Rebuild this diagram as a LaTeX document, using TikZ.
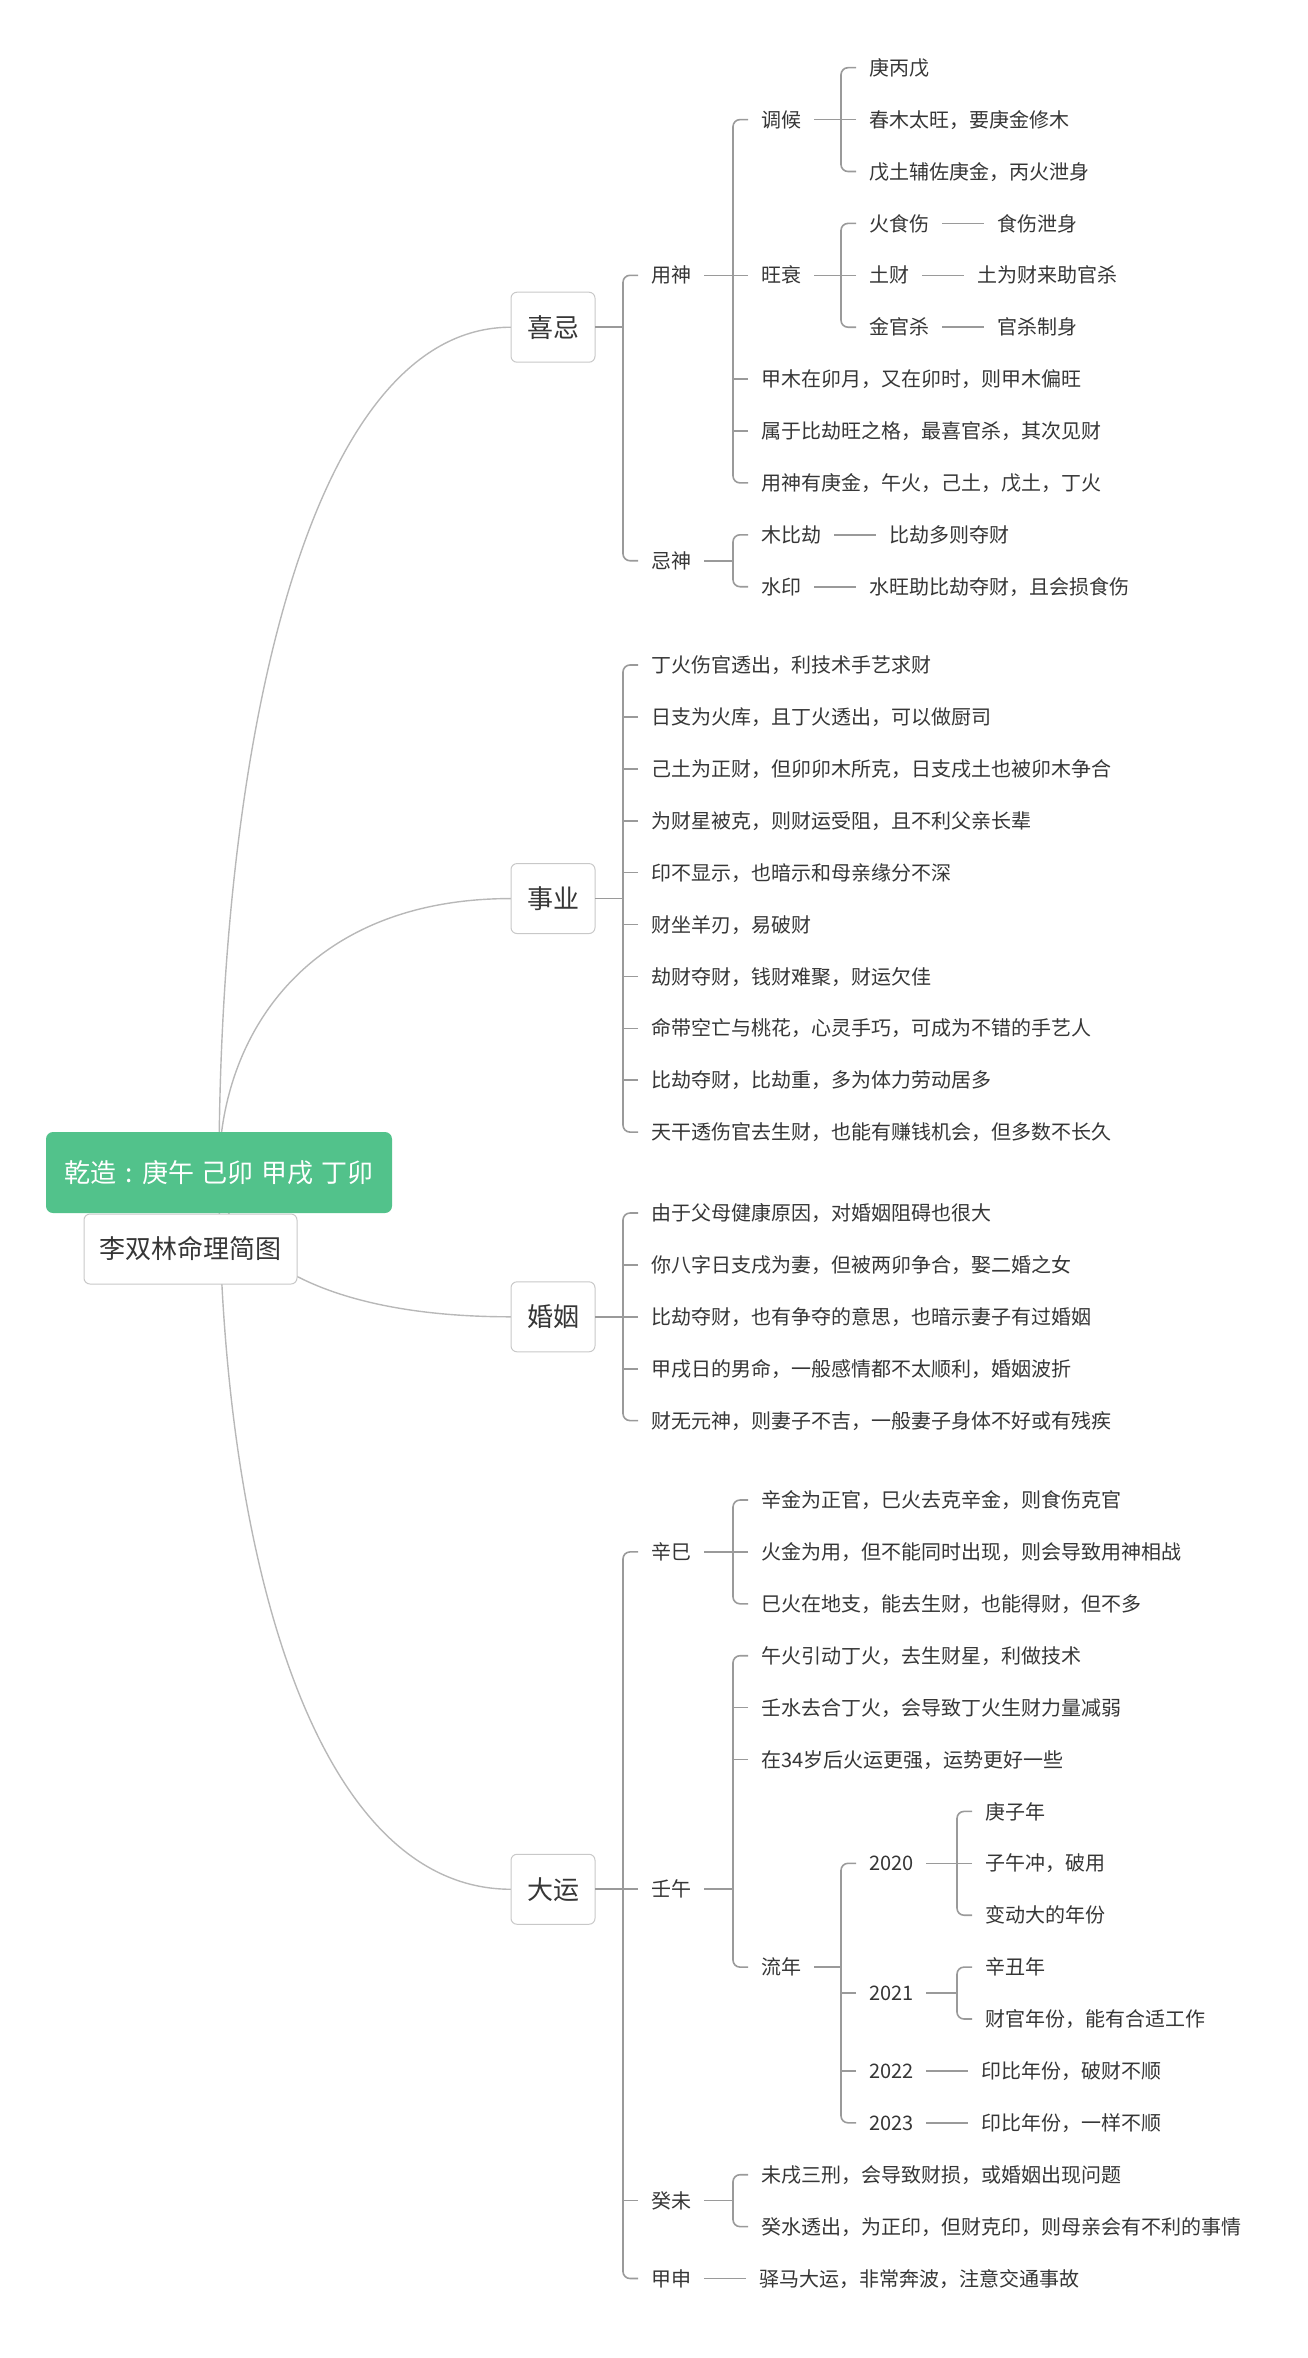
\documentclass[tikz,border=0pt]{standalone}
\usepackage{fontspec}
\setmainfont{Noto Sans CJK SC}
\usetikzlibrary{calc,positioning}
\pgfdeclarelayer{bg}
\pgfsetlayers{bg,main}
\definecolor{txtc}{HTML}{363636}
\definecolor{brc}{HTML}{9A9A9A}
\definecolor{cvc}{HTML}{B8B8B8}
\definecolor{boxc}{HTML}{C8C8C8}
\definecolor{grn}{HTML}{52C28B}
% bracket: parent, first child, last child
\newcommand{\mmfork}[3]{%
  \coordinate (#1k) at ($(#2.west)+(-15,0)$);
  \draw[br] (#1.east) -- (#1.east -| #1k);
  \draw[br, rounded corners=7pt] (#2.west) -- (#1k) |- (#3.west);
}
\newcommand{\mmstub}[2]{\draw[br] (#2.west) -- (#2.west -| #1k);}
\newcommand{\mmlink}[2]{\draw[br] (#1.east) -- (#2.west);}
\newcommand{\mmcurve}[2]{%
  \draw[cv] (#1.center) .. controls ($(#1.center)!0.5!(#1.center |- #2.west)$) and ($(#2.west -| #1.center)!0.3!(#2.west)$) .. (#2.west);
}
\begin{document}
\begin{tikzpicture}[x=1pt,y=-1pt,
  t/.style={inner xsep=13pt, inner ysep=0pt, outer sep=0pt, anchor=west, text=txtc,
    font=\fontsize{20pt}{24pt}\selectfont, text height=16pt, text depth=0.8pt},
  box/.style={draw=boxc, line width=1pt, fill=white, rounded corners=6pt, inner sep=0pt, outer sep=0pt,
    minimum width=84pt, minimum height=70pt, text=txtc,
    font=\fontsize{26pt}{30pt}\selectfont, text height=20.8pt, text depth=1pt},
  br/.style={draw=brc, line width=1.6pt},
  cv/.style={draw=cvc, line width=1.4pt},
  node distance=42pt]
\useasboundingbox (0,0) rectangle (1307,2358);

% roots
\node[draw=boxc, line width=1pt, fill=white, rounded corners=6pt, inner sep=0pt, minimum width=213pt, minimum height=70pt,
  text=txtc, font=\fontsize{26pt}{30pt}\selectfont, text height=20.8pt, text depth=1pt] (title) at (190.5,1249) {李双林命理简图};
\node[fill=grn, rounded corners=7pt, inner sep=0pt, minimum width=346pt, minimum height=81pt,
  text=white, font=\fontsize{26pt}{30pt}\selectfont, text height=20.8pt, text depth=1pt] (rg) at (219,1172.5)
  {乾造\makebox[26pt]{:}庚午\hspace{8pt}己卯\hspace{8pt}甲戌\hspace{8pt}丁卯};

% branch boxes
\node[box] (xj) at (553,327.2) {喜忌};
\node[box] (sy) at (553,898.55) {事业};
\node[box] (hy) at (553,1316.8) {婚姻};
\node[box] (dy) at (553,1889.25) {大运};

\begin{pgfonlayer}{bg}
\mmcurve{rg}{xj}
\mmcurve{rg}{sy}
\mmcurve{rg}{hy}
\mmcurve{rg}{dy}
\end{pgfonlayer}

% ===== 喜忌 =====
\node[t] (ys) at (638,275.3) {用神};
\node[t] (js) at (638,560.75) {忌神};
\node[t] (th) at (748,119.6) {调候};
\node[t] (ws) at (748,275.3) {旺衰};
\node[t] (a1) at (748,379.1) {甲木在卯月，又在卯时，则甲木偏旺};
\node[t] (a2) at (748,431.0) {属于比劫旺之格，最喜官杀，其次见财};
\node[t] (a3) at (748,482.9) {用神有庚金，午火，己土，戊土，丁火};
\node[t] (th1) at (856,67.7) {庚丙戊};
\node[t] (th2) at (856,119.6) {春木太旺，要庚金修木};
\node[t] (th3) at (856,171.5) {戊土辅佐庚金，丙火泄身};
\node[t] (ws1) at (856,223.4) {火食伤};
\node[t] (ws2) at (856,275.3) {土财};
\node[t] (ws3) at (856,327.2) {金官杀};
\node[t, right=of ws1] (ws1a) {食伤泄身};
\node[t, right=of ws2] (ws2a) {土为财来助官杀};
\node[t, right=of ws3] (ws3a) {官杀制身};
\node[t] (jb) at (748,534.8) {木比劫};
\node[t] (jy) at (748,586.7) {水印};
\node[t, right=of jb] (jba) {比劫多则夺财};
\node[t, right=of jy] (jya) {水旺助比劫夺财，且会损食伤};

\mmfork{xj}{ys}{js}
\mmfork{ys}{th}{a3}
\mmstub{ys}{ws}\mmstub{ys}{a1}\mmstub{ys}{a2}
\mmfork{th}{th1}{th3}
\mmstub{th}{th2}
\mmfork{ws}{ws1}{ws3}
\mmstub{ws}{ws2}
\mmlink{ws1}{ws1a}\mmlink{ws2}{ws2a}\mmlink{ws3}{ws3a}
\mmfork{js}{jb}{jy}
\mmlink{jb}{jba}\mmlink{jy}{jya}

% ===== 事业 =====
\node[t] (s1) at (638,665.0) {丁火伤官透出，利技术手艺求财};
\node[t] (s2) at (638,716.9) {日支为火库，且丁火透出，可以做厨司};
\node[t] (s3) at (638,768.8) {己土为正财，但卯卯木所克，日支戌土也被卯木争合};
\node[t] (s4) at (638,820.7) {为财星被克，则财运受阻，且不利父亲长辈};
\node[t] (s5) at (638,872.6) {印不显示，也暗示和母亲缘分不深};
\node[t] (s6) at (638,924.5) {财坐羊刃，易破财};
\node[t] (s7) at (638,976.4) {劫财夺财，钱财难聚，财运欠佳};
\node[t] (s8) at (638,1028.3) {命带空亡与桃花，心灵手巧，可成为不错的手艺人};
\node[t] (s9) at (638,1080.2) {比劫夺财，比劫重，多为体力劳动居多};
\node[t] (s10) at (638,1132.1) {天干透伤官去生财，也能有赚钱机会，但多数不长久};
\mmfork{sy}{s1}{s10}
\mmstub{sy}{s2}\mmstub{sy}{s3}\mmstub{sy}{s4}\mmstub{sy}{s5}
\mmstub{sy}{s6}\mmstub{sy}{s7}\mmstub{sy}{s8}\mmstub{sy}{s9}

% ===== 婚姻 =====
\node[t] (h1) at (638,1213.0) {由于父母健康原因，对婚姻阻碍也很大};
\node[t] (h2) at (638,1264.9) {你八字日支戌为妻，但被两卯争合，娶二婚之女};
\node[t] (h3) at (638,1316.8) {比劫夺财，也有争夺的意思，也暗示妻子有过婚姻};
\node[t] (h4) at (638,1368.7) {甲戌日的男命，一般感情都不太顺利，婚姻波折};
\node[t] (h5) at (638,1420.6) {财无元神，则妻子不吉，一般妻子身体不好或有残疾};
\mmfork{hy}{h1}{h5}
\mmstub{hy}{h2}\mmstub{hy}{h3}\mmstub{hy}{h4}

% ===== 大运 =====
\node[t] (xs) at (638,1551.9) {辛巳};
\node[t] (rw) at (638,1889.25) {壬午};
\node[t] (gw) at (638,2200.65) {癸未};
\node[t] (jsh) at (638,2278.5) {甲申};
\node[t, right=of jsh] (jsha) {驿马大运，非常奔波，注意交通事故};
\mmfork{dy}{xs}{jsh}
\mmstub{dy}{rw}\mmstub{dy}{gw}
\mmlink{jsh}{jsha}

\node[t] (x1) at (748,1500.0) {辛金为正官，巳火去克辛金，则食伤克官};
\node[t] (x2) at (748,1551.9) {火金为用，但不能同时出现，则会导致用神相战};
\node[t] (x3) at (748,1603.8) {巳火在地支，能去生财，也能得财，但不多};
\mmfork{xs}{x1}{x3}
\mmstub{xs}{x2}

\node[t] (w1) at (748,1655.7) {午火引动丁火，去生财星，利做技术};
\node[t] (w2) at (748,1707.6) {壬水去合丁火，会导致丁火生财力量减弱};
\node[t] (w3) at (748,1759.5) {在34岁后火运更强，运势更好一些};
\node[t] (ln) at (748,1967.1) {流年};
\mmfork{rw}{w1}{ln}
\mmstub{rw}{w2}\mmstub{rw}{w3}

\node[t] (y20) at (856,1863.3) {2020};
\node[t] (y21) at (856,1993.05) {2021};
\node[t] (y22) at (856,2070.9) {2022};
\node[t] (y23) at (856,2122.8) {2023};
\mmfork{ln}{y20}{y23}
\mmstub{ln}{y21}\mmstub{ln}{y22}

\node[t] (y20a) at (972,1811.4) {庚子年};
\node[t] (y20b) at (972,1863.3) {子午冲，破用};
\node[t] (y20c) at (972,1915.2) {变动大的年份};
\mmfork{y20}{y20a}{y20c}
\mmstub{y20}{y20b}

\node[t] (y21a) at (972,1967.1) {辛丑年};
\node[t] (y21b) at (972,2019.0) {财官年份，能有合适工作};
\mmfork{y21}{y21a}{y21b}

\node[t, right=of y22] (y22a) {印比年份，破财不顺};
\node[t, right=of y23] (y23a) {印比年份，一样不顺};
\mmlink{y22}{y22a}\mmlink{y23}{y23a}

\node[t] (g1) at (748,2174.7) {未戌三刑，会导致财损，或婚姻出现问题};
\node[t] (g2) at (748,2226.6) {癸水透出，为正印，但财克印，则母亲会有不利的事情};
\mmfork{gw}{g1}{g2}
\end{tikzpicture}
\end{document}
